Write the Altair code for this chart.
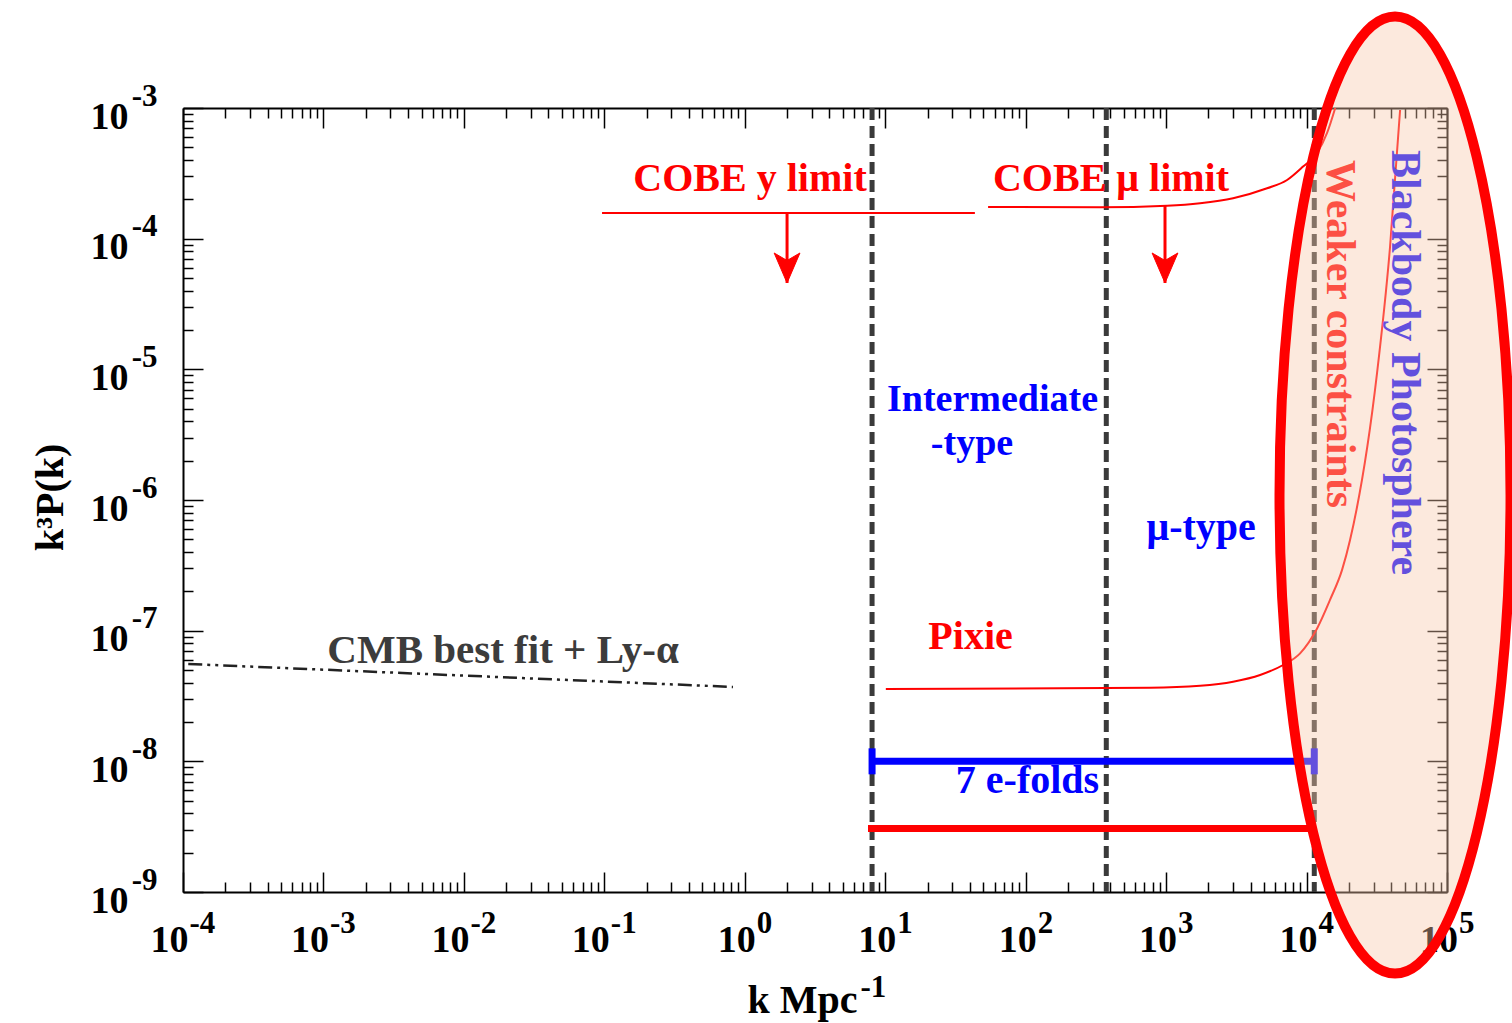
import altair as alt
import pandas as pd

W, H = 1264, 784
FONT = "Liberation Serif"

# ---------------- axis tick values ----------------
X_MAJOR = [1e-4, 1e-3, 1e-2, 1e-1, 1e0, 1e1, 1e2, 1e3, 1e4, 1e5]
Y_MAJOR = [1e-9, 1e-8, 1e-7, 1e-6, 1e-5, 1e-4, 1e-3]
X_TICKS = X_MAJOR + [m * d for d in X_MAJOR[:-1] for m in range(2, 10)]
Y_TICKS = Y_MAJOR + [m * d for d in Y_MAJOR[:-1] for m in range(2, 10)]

# ---------------- data ----------------
regime_k = [8.06, 375.0, 11350.0]

cmb_k = [1.09e-4, 0.824]
cmb_p = [5.56e-8, 3.71e-8]

cobe_y_k = [0.0963, 43.5]
cobe_y_p = [1.57e-4, 1.57e-4]

mu_k = [54.0, 339.0, 1016.0, 1746.0, 3000.0, 5236.0, 7267.0, 9441.0, 11880.0, 14000.0, 16000.0]
mu_p = [1.75e-4, 1.74e-4, 1.79e-4, 1.87e-4, 2.04e-4, 2.43e-4, 2.81e-4, 3.56e-4, 4.53e-4, 6.44e-4, 1.0e-3]

pixie_k = [10.1, 768.0, 1746.0, 3000.0, 4670.0, 6808.0, 8995.0, 11885.0, 14690.0, 17900.0,
           20400.0, 31770.0, 39300.0, 46340.0]
pixie_p = [3.58e-8, 3.66e-8, 3.79e-8, 4.07e-8, 4.58e-8, 5.46e-8, 6.71e-8, 1.04e-7, 1.72e-7,
           2.92e-7, 4.94e-7, 9.38e-6, 8.63e-5, 9.66e-4]

arrow_k = [2.0, 982.0]
arrow_from = [1.57e-4, 1.79e-4]
arrow_to = [4.58e-5, 4.58e-5]

efold_k = [8.06, 11350.0]
efold_p = [1.0e-8, 1.0e-8]

pbar_k = [7.54, 11350.0]
pbar_p = [3.06e-9, 3.06e-9]

ellipse_k = [42650.0]
ellipse_p = [1.09e-6]

red_labels = ["COBE y limit", "COBE \u03bc limit", "Pixie"]
red_labels_k = [1.09, 405.0, 40.5]
red_labels_p = [2.32e-4, 2.32e-4, 7.24e-8]

blue_labels = ["\u03bc-type", "7 e-folds"]
blue_labels_k = [1775.0, 103.0]
blue_labels_p = [4.94e-7, 5.73e-9]

inter_labels = ["Intermediate", "-type"]
inter_labels_k = [58.1, 41.5]
inter_labels_p = [4.80e-6, 2.21e-6]

cmb_label = ["CMB best fit + Ly-\u03b1"]
cmb_label_k = [0.0190]
cmb_label_p = [5.66e-8]

weak_label = ["Weaker constraints"]
weak_label_k = [17300.0]
weak_label_p = [4.0e-4]

bb_label = ["Blackbody Photosphere"]
bb_label_k = [50200.0]
bb_label_p = [4.77e-4]

# ---------------- scales ----------------
xs = alt.Scale(type="log", domain=[1e-4, 1e5], nice=False)
ys = alt.Scale(type="log", domain=[1e-9, 1e-3], nice=False)


def df(k, p=None, **extra):
    d = {"k": k}
    if p is not None:
        d["p"] = p
    d.update(extra)
    return pd.DataFrame(d)


def X(field="k"):
    return alt.X(f"{field}:Q", scale=xs, axis=None)


def Y(field="p"):
    return alt.Y(f"{field}:Q", scale=ys, axis=None)


def cond(test, a, b):
    return {"condition": {"test": test, "value": a}, "value": b}


IS_MAJOR = "abs(log(datum.value) / LN10 - round(log(datum.value) / LN10)) < 0.001"
NEG = "datum.value < 0.5"
TICK_SIZE = cond(IS_MAJOR, 20, 10)
EXP_EXPR = "'' + round(log(datum.value) / LN10)"

base = dict(grid=False, labelFont=FONT, labelFontWeight="bold", labelColor="black",
            labelFlush=False, labelOverlap=False, titleFont=FONT, titleFontWeight="bold",
            titleColor="black", domainColor="black", domainWidth=2, tickColor="black",
            tickWidth=1.5)

dummy = pd.DataFrame({"k": [1.0], "p": [1e-6]})


def axis_layer(xaxis, yaxis):
    return alt.Chart(dummy).mark_point(opacity=0).encode(
        x=alt.X("k:Q", scale=xs, axis=xaxis),
        y=alt.Y("p:Q", scale=ys, axis=yaxis),
    )


# labels "10" + titles, bottom/left frame lines
ax1 = axis_layer(
    alt.Axis(orient="bottom", values=X_MAJOR, labelExpr="'10'", ticks=False, tickSize=0,
             domain=True, labelAlign="right", labelBaseline="alphabetic", labelPadding=59,
             labelOffset=cond(NEG, 5, 10.5), labelFontSize=38, title="k Mpc", titleX=674,
             titleY=120, titleAlign="right", titleBaseline="alphabetic", titleAngle=0,
             titleFontSize=40, **base),
    alt.Axis(orient="left", values=Y_MAJOR, labelExpr="'10'", ticks=False, tickSize=0,
             domain=True, labelAlign="right", labelBaseline="alphabetic", labelPadding=55,
             labelOffset=20, labelFontSize=38, title="k\u00b3P(k)", titleX=-121, titleY=389,
             titleAngle=-90, titleAlign="center", titleBaseline="alphabetic",
             titleFontSize=40, **base),
)
# exponents
ax2 = axis_layer(
    alt.Axis(orient="bottom", values=X_MAJOR, labelExpr=EXP_EXPR, ticks=False, tickSize=0,
             domain=False, labelAlign="left", labelBaseline="alphabetic", labelPadding=40,
             labelOffset=cond(NEG, 6, 11.5), labelFontSize=31, title="-1", titleX=677,
             titleY=104, titleAlign="left", titleBaseline="alphabetic", titleAngle=0,
             titleFontSize=31, **base),
    alt.Axis(orient="left", values=Y_MAJOR, labelExpr=EXP_EXPR, ticks=False, tickSize=0,
             domain=False, labelAlign="right", labelBaseline="alphabetic", labelPadding=26,
             labelOffset=-3, labelFontSize=31, title=None, **base),
)
# inward ticks on bottom and left (opposite orient, shifted across the plot)
ax3 = axis_layer(
    alt.Axis(orient="top", offset=-H, values=X_TICKS, labels=False, domain=False,
             ticks=True, tickSize=TICK_SIZE, title=None, **base),
    alt.Axis(orient="right", offset=-W, values=Y_TICKS, labels=False, domain=False,
             ticks=True, tickSize=TICK_SIZE, title=None, **base),
)
# top and right frame with inward ticks
ax4 = axis_layer(
    alt.Axis(orient="bottom", offset=-H, values=X_TICKS, labels=False, domain=True,
             ticks=True, tickSize=TICK_SIZE, title=None, **base),
    alt.Axis(orient="left", offset=-W, values=Y_TICKS, labels=False, domain=True,
             ticks=True, tickSize=TICK_SIZE, title=None, **base),
)

# ---------------- data layers ----------------
regimes = alt.Chart(df(regime_k)).mark_rule(
    color="#3a3a3a", strokeWidth=5, strokeDash=[12, 6]
).encode(x=X())

cmb = alt.Chart(df(cmb_k, cmb_p)).mark_line(
    color="#222222", strokeWidth=2.5, strokeDash=[14, 5, 3, 5, 3, 5]
).encode(x=X(), y=Y())

cobe_y = alt.Chart(df(cobe_y_k, cobe_y_p)).mark_line(color="#ff0000", strokeWidth=2).encode(
    x=X(), y=Y())

mu = alt.Chart(df(mu_k, mu_p)).mark_line(
    color="#ff0000", strokeWidth=2, interpolate="monotone").encode(x=X(), y=Y())

pixie = alt.Chart(df(pixie_k, pixie_p)).mark_line(
    color="#ff0000", strokeWidth=2, interpolate="monotone").encode(x=X(), y=Y())

shafts = alt.Chart(df(arrow_k, p0=arrow_from, p1=arrow_to)).mark_rule(
    color="#ff0000", strokeWidth=3).encode(x=X(), y=Y("p0"), y2="p1:Q")

heads = alt.Chart(df(arrow_k, arrow_to)).mark_point(
    shape="M0,0L-0.43,-1L0,-0.75L0.43,-1Z", size=3600, filled=True, fill="#ff0000",
    stroke="#ff0000", strokeWidth=1, opacity=1).encode(x=X(), y=Y())

efold = alt.Chart(df(efold_k, efold_p)).mark_line(
    color="#0000ff", strokeWidth=7).encode(x=X(), y=Y())

caps = alt.Chart(df(efold_k, efold_p)).mark_point(
    shape="M0,-1L0,1", size=676, filled=False, stroke="#0000ff", strokeWidth=7,
    opacity=1).encode(x=X(), y=Y())

pbar = alt.Chart(df(pbar_k, pbar_p)).mark_line(
    color="#ff0000", strokeWidth=7).encode(x=X(), y=Y())


def text_layer(labels, k, p, color, **kw):
    opts = dict(font=FONT, fontWeight="bold", fontSize=40, color=color, align="center",
                baseline="alphabetic")
    opts.update(kw)
    return alt.Chart(df(k, p, t=labels)).mark_text(**opts).encode(
        x=X(), y=Y(), text="t:N")


red_txt = text_layer(red_labels, red_labels_k, red_labels_p, "#ff0000")
blue_txt = text_layer(blue_labels, blue_labels_k, blue_labels_p, "#0000ff")
inter_txt = text_layer(inter_labels, inter_labels_k, inter_labels_p, "#0000ff", fontSize=38)
cmb_txt = text_layer(cmb_label, cmb_label_k, cmb_label_p, "#3c3c3c", fontSize=41)
weak_txt = text_layer(weak_label, weak_label_k, weak_label_p, "#ff0000", fontSize=42,
                      angle=90, align="left", baseline="middle")
bb_txt = text_layer(bb_label, bb_label_k, bb_label_p, "#0000ff", fontSize=42,
                    angle=90, align="left", baseline="middle")

ellipse = alt.Chart(df(ellipse_k, ellipse_p)).mark_point(
    shape="M-0.2414,0A0.2414,1,0,1,1,0.2414,0A0.2414,1,0,1,1,-0.2414,0Z",
    size=957 ** 2, filled=True, fill="#f7c8aa", fillOpacity=0.4, stroke="#ff0000",
    strokeWidth=10, strokeOpacity=1, opacity=1).encode(x=X(), y=Y())

chart = alt.layer(
    ax1, ax2, ax3, ax4,
    regimes, cmb, cobe_y, mu, pixie, shafts, heads, efold, caps, pbar,
    red_txt, blue_txt, inter_txt, cmb_txt, weak_txt, bb_txt,
    ellipse,
).resolve_axis(x="independent", y="independent").properties(
    width=W, height=H,
    autosize=alt.AutoSizeParams(type="none"),
    padding={"left": 183, "top": 108, "right": 65, "bottom": 131},
).configure_view(stroke=None)

chart.save("out.html", embed_options={"renderer": "svg", "actions": False})
